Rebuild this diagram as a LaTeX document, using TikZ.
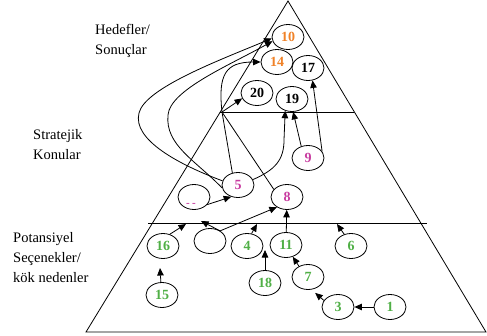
\documentclass[tikz,border=0pt]{standalone}
\usepackage{fontspec}
\setmainfont{Liberation Serif}
\usetikzlibrary{shapes.geometric,arrows.meta}
\definecolor{cor}{RGB}{240,130,40}
\definecolor{cgr}{RGB}{80,175,70}
\definecolor{cmg}{RGB}{200,60,160}
\begin{document}
\begin{tikzpicture}[x=1pt,y=-1pt,
 ell/.style={draw, ellipse, minimum width=32pt, minimum height=25pt, inner sep=0pt, line width=0.8pt, font=\fontsize{14}{16}\selectfont\bfseries},
 con/.style={line width=0.8pt, -{Triangle[length=7.5pt,width=6.5pt]}},
 lbl/.style={align=left, anchor=north west, inner sep=0pt, font=\fontsize{14.5}{20}\selectfont},
 pyr/.style={line width=0.8pt}
]
\useasboundingbox (0,0) rectangle (487,335);
% pyramid
\coordinate (apex) at (288,1);
\coordinate (bl) at (86,332);
\coordinate (br) at (486,332);
\draw[pyr] (bl) -- (apex) -- (br) -- cycle;
\coordinate (u1) at (220.3,112);
\coordinate (u2) at (354.4,112);
\draw[pyr] (u1) -- (u2);
\coordinate (l1) at (148,223);
\coordinate (l2) at (427,223);
\draw[pyr] (l1) -- (l2);
% level labels
\node[lbl] (hs) at (95,24) {Hedefler/\\Sonuçlar};
\node[lbl] (sk) at (33,129) {Stratejik\\Konular};
\node[lbl] (ps) at (13,232) {Potansiyel\\Seçenekler/\\kök nedenler};
% nodes
\node[ell,text=cor] (n10) at (288,37) {10};
\node[ell,text=cor] (n14) at (277,62) {14};
\node[ell] (n17) at (308,68) {17};
\node[ell] (n20) at (257,93) {20};
\node[ell] (n19) at (292,99) {19};
\node[ell,text=cmg] (n9) at (308,158) {9};
\node[ell,text=cmg] (n5) at (238,185) {5};
\node[ell] (nu) at (194,197) {};
\node[text=cmg, font=\fontsize{11}{11}\selectfont\bfseries, inner sep=0pt] (nut) at (191,205) {-\hspace{2.5pt}-};
\node[ell,text=cmg] (n8) at (287,197) {8};
\node[ell,text=cgr] (n16) at (163,246) {16};
\node[ell] (ne) at (210,241) {};
\node[ell,text=cgr] (n4) at (247,246) {4};
\node[ell,text=cgr] (n11) at (286,245) {11};
\node[ell,text=cgr] (n6) at (351,246) {6};
\node[ell,text=cgr] (n18) at (265,283) {18};
\node[ell,text=cgr] (n7) at (308,277) {7};
\node[ell,text=cgr] (n15) at (162,295) {15};
\node[ell,text=cgr] (n3) at (338,307) {3};
\node[ell,text=cgr] (n1) at (390,307) {1};
% free ends
\coordinate (X) at (222,112);
\coordinate (t16) at (186,224);
\coordinate (tE) at (201,221);
\coordinate (t4) at (257,224);
\coordinate (t6) at (337,224);
\coordinate (t18) at (265,250);
\coordinate (t15) at (160,268);
% connectors
\draw[con] (n5.165) .. controls (180,165) and (132,140) .. (139,113) .. controls (145,88) and (220,60) .. (n10.185);
\draw[con] (n5.190) .. controls (195,160) and (165,145) .. (168,115) .. controls (170,90) and (230,65) .. (n10.195);
\draw[con] (n8.150) -- (X) .. controls (218,75) and (225,62) .. (n14.west);
\draw[con] (n5.115) -- (X) -- (n20.200);
\draw[con] (n5.20) .. controls (275,170) and (284,160) .. (284,140) -- (n19.240);
\draw[con] (n9.120) -- (n19.275);
\draw[con] (n9.25) -- (n17.290);
\draw[con] (nu.-30) -- (n5.240);
\draw[con] (ne.45) -- (n8.225);
\draw[con] (ne.45) -- (tE);
\draw[con] (n16.60) -- (t16);
\draw[con] (n4.70) -- (t4);
\draw[con] (n11) -- (n8);
\draw[con] (n6.120) -- (t6);
\draw[con] (n18) -- (t18);
\draw[con] (n15.95) -- (t15);
\draw[con] (n7.130) -- (n11.300);
\draw[con, shorten >=5pt] (n3.155) -- (n7.285);
\draw[con] (n1) -- (n3);
\end{tikzpicture}
\end{document}
